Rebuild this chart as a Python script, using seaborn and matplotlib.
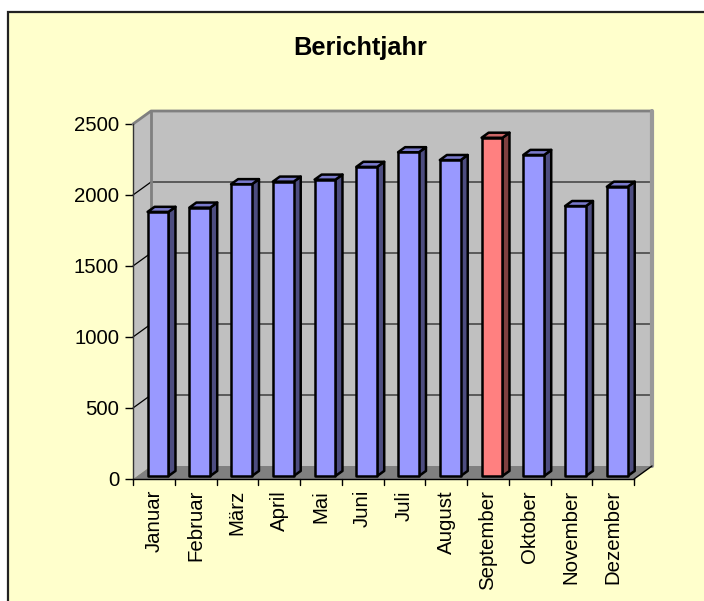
import matplotlib
matplotlib.use("Agg")
import matplotlib.pyplot as plt
from matplotlib.patches import Polygon, Rectangle
import seaborn as sns
import pandas as pd

# ------------------------------------------------
# data
# ------------------------------------------------
monate = ["Januar", "Februar", "März", "April", "Mai", "Juni", "Juli",
          "August", "September", "Oktober", "November", "Dezember"]
werte = [1860, 1890, 2055, 2073, 2087, 2177, 2280, 2225, 2382, 2261, 1901, 2037]
hervorgehoben = "September"
y_ticks = [0, 500, 1000, 1500, 2000, 2500]
titel = "Berichtjahr"

df = pd.DataFrame({"monat": monate, "wert": werte})

BLAU = "#9999FF"
ROT = "#FF8080"
farben = [ROT if m == hervorgehoben else BLAU for m in monate]

sns.set_style("white")
plt.rcParams["font.family"] = ["Liberation Sans", "DejaVu Sans"]
plt.rcParams["text.color"] = "black"
plt.rcParams["xtick.color"] = "black"
plt.rcParams["ytick.color"] = "black"

fig = plt.figure(figsize=(7.04, 6.01), dpi=100)
fig.patch.set_facecolor("white")
fig.patches.append(Rectangle((8 / 704, -0.05), 1.05, 1 - 12 / 601 + 0.05,
                             transform=fig.transFigure, facecolor="#FFFFCC",
                             edgecolor="#222222", linewidth=1.6, zorder=-10))

ax = fig.add_axes([133 / 704, 1 - 479 / 601, 501 / 704, 355 / 601])
ax.set_facecolor("none")

# 3d depth (data units): 18 px right, 13 px up
DX = 18 / (501 / 12)
DY = 13 / (355 / 2500)
YMAX = 2500
xl, xr = -0.5, len(monate) - 0.5

# walls + floor
wall = "#C0C0C0"
ax.add_patch(Polygon([(xl + DX, DY), (xr + DX, DY), (xr + DX, YMAX + DY), (xl + DX, YMAX + DY)],
                     closed=True, facecolor=wall, edgecolor="none", zorder=0.5, clip_on=False))
ax.add_patch(Polygon([(xl, 0), (xl + DX, DY), (xl + DX, YMAX + DY), (xl, YMAX)],
                     closed=True, facecolor=wall, edgecolor="none", zorder=0.5, clip_on=False))
ax.add_patch(Polygon([(xl, 0), (xr, 0), (xr + DX, DY), (xl + DX, DY)],
                     closed=True, facecolor="#808080", edgecolor="none", zorder=0.6, clip_on=False))

for v in y_ticks[1:-1]:
    ax.plot([xl + DX, xr + DX], [v + DY, v + DY], color="#5A5A5A", lw=1.4, zorder=0.8, clip_on=False)
    ax.plot([xl, xl + DX], [v, v + DY], color="black", lw=0.9, zorder=0.8, clip_on=False)
# wall edges
ax.plot([xl, xl + DX, xr + DX], [YMAX, YMAX + DY, YMAX + DY], color="#808080", lw=2, zorder=0.9, clip_on=False)
ax.plot([xl + DX, xl + DX], [DY, YMAX + DY], color="#808080", lw=2, zorder=0.9, clip_on=False)
ax.plot([xr + DX, xr + DX], [DY, YMAX + DY], color="#999999", lw=3, zorder=0.9, clip_on=False)
ax.plot([xr, xr + DX], [0, DY], color="black", lw=1, zorder=0.9, clip_on=False)

# bars
n_before = len(ax.patches)
sns.barplot(data=df, x="monat", y="wert", hue="monat", palette=farben, legend=False,
            width=0.5, edgecolor="black", linewidth=1.8, saturation=1, ax=ax, zorder=3)
bars = sorted(ax.patches[n_before:], key=lambda p: p.get_x())

f0, fd = 0.23, 0.39   # bar front depth and bar thickness (fraction of depth)
for p in bars:
    p.set_x(p.get_x() + f0 * DX)
    p.set_y(f0 * DY)
    p.set_clip_on(False)
    p.set_joinstyle("round")
    x0, y0, w, h = p.get_x(), p.get_y(), p.get_width(), p.get_height()
    r, g, b, _ = p.get_facecolor()
    bdx, bdy = fd * DX, fd * DY
    ax.add_patch(Polygon([(x0 + w, y0), (x0 + w + bdx, y0 + bdy), (x0 + w + bdx, y0 + h + bdy), (x0 + w, y0 + h)],
                         closed=True, facecolor=(r * 0.5, g * 0.5, b * 0.5), edgecolor="black",
                         lw=1.8, zorder=2.9, clip_on=False, joinstyle="round"))
    ax.add_patch(Polygon([(x0, y0 + h), (x0 + w, y0 + h), (x0 + w + bdx, y0 + h + bdy), (x0 + bdx, y0 + h + bdy)],
                         closed=True, facecolor=(r * 0.8, g * 0.8, b * 0.8), edgecolor="black",
                         lw=1.8, zorder=2.9, clip_on=False, joinstyle="round"))

ax.set_xlim(xl, xr)
ax.set_ylim(0, YMAX)
ax.set_yticks(y_ticks)
ax.set_yticklabels([str(v) for v in y_ticks])
ax.set_xticks(range(len(monate)))
ax.set_xticklabels(monate, rotation=90)
ax.tick_params(axis="x", length=0, pad=8, labelsize=14.7)
ax.tick_params(axis="y", length=6, width=1, pad=4, labelsize=14.7, direction="out", left=True)
for b in [i - 0.5 for i in range(len(monate) + 1)]:
    ax.plot([b, b], [0, -45], color="black", lw=1, clip_on=False, zorder=4)
ax.set_xlabel("")
ax.set_ylabel("")
for s in ["top", "right"]:
    ax.spines[s].set_visible(False)
ax.spines["left"].set_color("#333333")
ax.spines["bottom"].set_color("black")
ax.spines["left"].set_linewidth(1)
ax.spines["bottom"].set_linewidth(1)

fig.text(360 / 704, 1 - 55 / 601, titel, ha="center", va="baseline",
         fontsize=18.3, fontweight="bold")

fig.savefig("out.png", dpi=100, facecolor=fig.get_facecolor())
